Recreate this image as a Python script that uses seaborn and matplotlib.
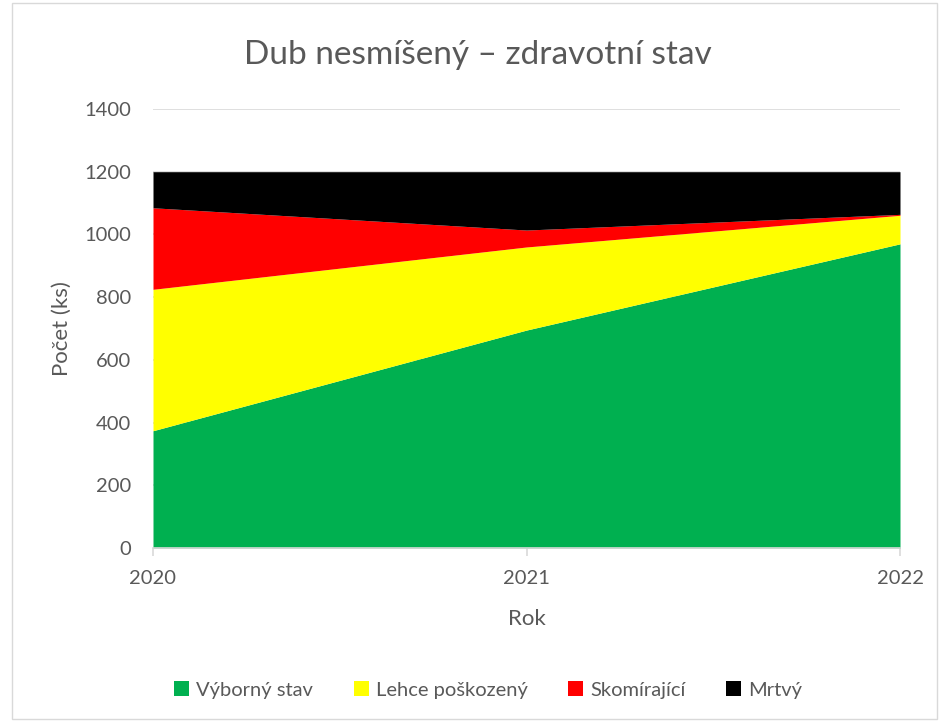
import matplotlib
matplotlib.use("Agg")
import matplotlib.pyplot as plt
import seaborn as sns
import pandas as pd
from matplotlib.patches import Rectangle, Patch

years = [2020, 2021, 2022]
vyborny = [374, 695, 970]
lehce = [451, 265, 91]
skomirajici = [260, 54, 3]
mrtvy = [115, 186, 136]

series_names = ["Výborný stav", "Lehce poškozený", "Skomírající", "Mrtvý"]
colors = ["#00B050", "#FFFF00", "#FF0000", "#000000"]
title = "Dub nesmíšený – zdravotní stav"
xlabel = "Rok"
ylabel = "Počet (ks)"
yticks = [0, 200, 400, 600, 800, 1000, 1200, 1400]

df = pd.DataFrame({"Rok": years, series_names[0]: vyborny, series_names[1]: lehce,
                   series_names[2]: skomirajici, series_names[3]: mrtvy})

sns.set_theme(style="white")
plt.rcParams['font.family'] = ['Lato', 'DejaVu Sans']
txt = "#595959"

fig = plt.figure(figsize=(9.41, 7.22), dpi=100)
ax = fig.add_axes([153/941, 1-548/722, (900-153)/941, (548-109)/722])

ax.stackplot(df["Rok"], [df[n] for n in series_names], colors=colors, linewidth=0, zorder=2)

ax.set_xlim(2020, 2022)
ax.set_ylim(0, 1400)
ax.set_yticks(yticks)
ax.set_xticks(years)
ax.set_xticklabels([str(y) for y in years])
ax.grid(axis="y", color="#d9d9d9", linewidth=1.2, zorder=0)
ax.set_axisbelow(True)
for s in ["top", "right", "left"]:
    ax.spines[s].set_visible(False)
ax.spines["bottom"].set_color("#d9d9d9")
ax.spines["bottom"].set_linewidth(1.2)
ax.spines["bottom"].set_zorder(3)
ax.tick_params(axis="y", length=0, pad=16, labelsize=14.5, labelcolor=txt)
ax.tick_params(axis="x", bottom=True, length=6, width=1.2, color="#d9d9d9", pad=10, labelsize=14.5, labelcolor=txt)

ax.set_xlabel(xlabel, fontsize=16, color=txt, labelpad=16)
ax.set_ylabel(ylabel, fontsize=16, color=txt, labelpad=9)
fig.text(478/941, 1-55/722, title, ha="center", va="center", fontsize=24, color=txt)

handles = [Patch(facecolor=c, edgecolor="none") for c in colors]
fig.legend(handles, series_names, loc="center", bbox_to_anchor=(488/941, 1-690/722), ncol=4,
           frameon=False, fontsize=14.5, labelcolor=txt, handlelength=0.75, handleheight=0.75,
           handletextpad=0.35, columnspacing=2.0)

fig.patches.append(Rectangle((12/941, 3/722), 925/941, 716/722, transform=fig.transFigure,
                             fill=False, edgecolor="#d9d9d9", linewidth=1))

fig.savefig("out.png", dpi=100)
